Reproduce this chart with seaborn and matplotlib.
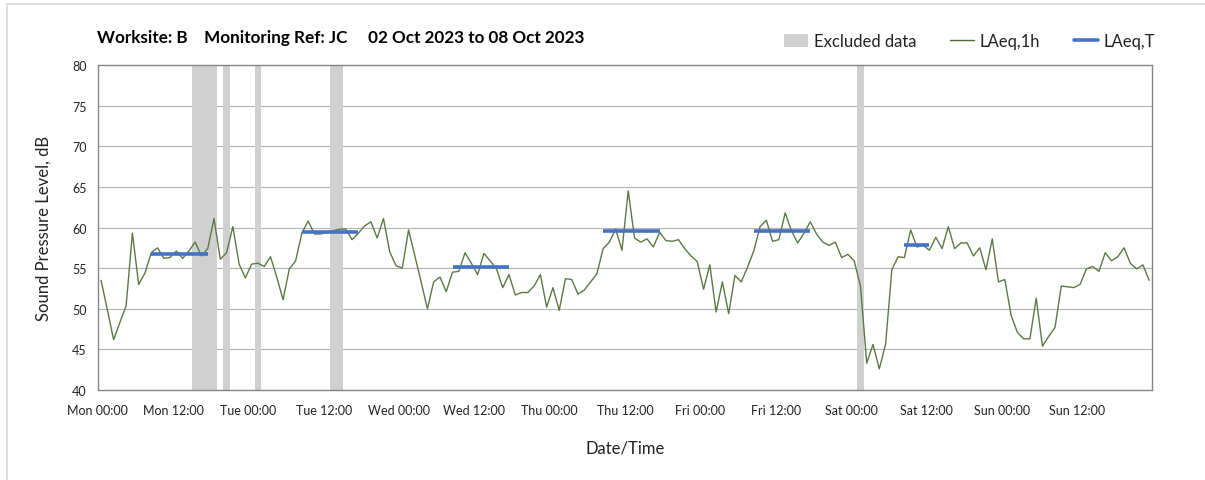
import seaborn as sns
import pandas as pd
import matplotlib.pyplot as plt
import matplotlib.dates as mdates
from matplotlib.ticker import FuncFormatter
from matplotlib.patches import Patch, Rectangle
from matplotlib.lines import Line2D

# hourly LAeq,1h values, Mon 02 Oct 2023 00:30 onwards (168 h)
laeq_1h = [
    53.5, 49.9, 46.2, 48.3, 50.4, 59.3, 53.0, 54.4, 56.9, 57.5, 56.2, 56.3,
    57.1, 56.2, 57.1, 58.2, 56.5, 57.4, 61.1, 56.1, 56.9, 60.1, 55.5, 53.8,
    55.5, 55.6, 55.2, 56.4, 53.9, 51.1, 54.9, 55.9, 59.3, 60.8, 59.2, 59.2,
    59.4, 59.6, 59.8, 59.8, 58.5, 59.3, 60.2, 60.7, 58.7, 61.1, 57.0, 55.3,
    55.0, 59.7, 56.5, 53.3, 50.0, 53.3, 53.9, 52.1, 54.5, 54.6, 56.9, 55.6,
    54.2, 56.8, 55.9, 54.9, 52.6, 54.2, 51.7, 52.0, 52.0, 52.8, 54.2, 50.2,
    52.6, 49.8, 53.7, 53.6, 51.8, 52.3, 53.3, 54.3, 57.4, 58.2, 59.8, 57.2,
    64.5, 58.7, 58.2, 58.6, 57.6, 59.4, 58.4, 58.3, 58.5, 57.4, 56.5, 55.8,
    52.4, 55.4, 49.6, 53.3, 49.4, 54.1, 53.3, 55.1, 57.1, 60.1, 60.9, 58.3,
    58.5, 61.8, 59.6, 58.1, 59.3, 60.7, 59.2, 58.2, 57.8, 58.2, 56.3, 56.7,
    55.9, 52.8, 43.3, 45.6, 42.6, 45.6, 54.8, 56.4, 56.3, 59.7, 57.6, 57.8,
    57.2, 58.8, 57.4, 60.1, 57.4, 58.1, 58.1, 56.5, 57.5, 54.8, 58.6, 53.3,
    53.6, 49.2, 47.1, 46.3, 46.3, 51.3, 45.4, 46.6, 47.7, 52.8, 52.7, 52.6,
    53.0, 54.9, 55.2, 54.6, 56.9, 55.9, 56.4, 57.5, 55.6, 54.9, 55.4, 53.5,
]

# LAeq,T periods: first hour index, last hour index, level
period_start = [8, 32, 56, 80, 104, 128]
period_end = [17, 41, 65, 89, 113, 132]
period_level = [56.8, 59.5, 55.2, 59.6, 59.6, 57.9]

# excluded data, hours from Mon 00:00
excl_start = [15, 20, 25, 37, 121]
excl_end = [19, 21, 26, 39, 122]

t0 = pd.Timestamp("2023-10-02 00:00")
t_end = t0 + pd.Timedelta(days=7)
times = pd.date_range("2023-10-02 00:30", periods=len(laeq_1h), freq="h")
df = pd.DataFrame({"time": times, "LAeq,1h": laeq_1h})

sns.set_theme(style="white")
plt.rcParams["font.family"] = ["Lato", "DejaVu Sans"]

fig = plt.figure(figsize=(12.05, 4.81), dpi=100)
ax = fig.add_axes([97.9 / 1205, 1 - 391 / 481, (1152.3 - 97.9) / 1205, 325 / 481])

for s, e in zip(excl_start, excl_end):
    ax.axvspan(t0 + pd.Timedelta(hours=s), t0 + pd.Timedelta(hours=e),
               color="#d0d0d0", lw=0, zorder=1)

sns.lineplot(data=df, x="time", y="LAeq,1h", ax=ax, color="#5a7a44",
             lw=1.0, legend=False, zorder=3)

for s, e, v in zip(period_start, period_end, period_level):
    ax.hlines(v, times[s], times[e], color="#4472C4", lw=2.6, zorder=4)

ax.set_xlim(t0, t_end)
ax.set_ylim(40, 80)
ax.set_yticks(range(40, 81, 5))

end_num = mdates.date2num(t_end)
fmt = mdates.DateFormatter("%a %H:%M")


def xlabel_fmt(x, pos=None):
    if x >= end_num - 1e-6:
        return ""
    return fmt(x, pos)


ax.xaxis.set_major_locator(mdates.HourLocator(byhour=[0, 12]))
ax.xaxis.set_major_formatter(FuncFormatter(xlabel_fmt))
ax.xaxis.set_minor_locator(mdates.HourLocator(byhour=[0]))
ax.grid(axis="y", color="#b3b3b3", lw=0.8, zorder=0)
ax.grid(axis="x", which="minor", color="#e3e3e3", lw=1.3, zorder=0)
ax.set_axisbelow(True)

for sp in ax.spines.values():
    sp.set_color("#868686")
    sp.set_linewidth(1.0)
ax.tick_params(axis="both", which="major", direction="out", length=4,
               color="#868686", labelsize=9, labelcolor="#222222", pad=4)
ax.tick_params(axis="x", which="minor", length=0)
ax.tick_params(axis="x", pad=6)

ax.set_xlabel("Date/Time", fontsize=12, labelpad=17, color="#222222")
ax.set_ylabel("Sound Pressure Level, dB", fontsize=12, labelpad=15, color="#222222")

fig.text(97 / 1205, 1 - 38 / 481,
         "Worksite: B    Monitoring Ref: JC     02 Oct 2023 to 08 Oct 2023",
         fontsize=12.3, fontweight="bold", va="center", ha="left", color="black")

handles = [
    Patch(facecolor="#d0d0d0", edgecolor="none"),
    Line2D([], [], color="#4f6b32", lw=1.0),
    Line2D([], [], color="#4472C4", lw=2.6),
]
fig.legend(handles, ["Excluded data", "LAeq,1h", "LAeq,T"], ncol=3,
           loc="center right", bbox_to_anchor=(1170 / 1205, 1 - 42 / 481),
           frameon=False, fontsize=12, handlelength=1.45, handleheight=0.8,
           handletextpad=0.35, columnspacing=2.0, labelcolor="#222222")

# light outer frame (left and top edges only visible)
fig.patches.append(Rectangle((7 / 1205, -0.1), 1.2, 1 - 5 / 481 + 0.1,
                             transform=fig.transFigure, fill=False,
                             edgecolor="#d9d9d9", lw=1.2))

fig.savefig("out.png", dpi=100)
